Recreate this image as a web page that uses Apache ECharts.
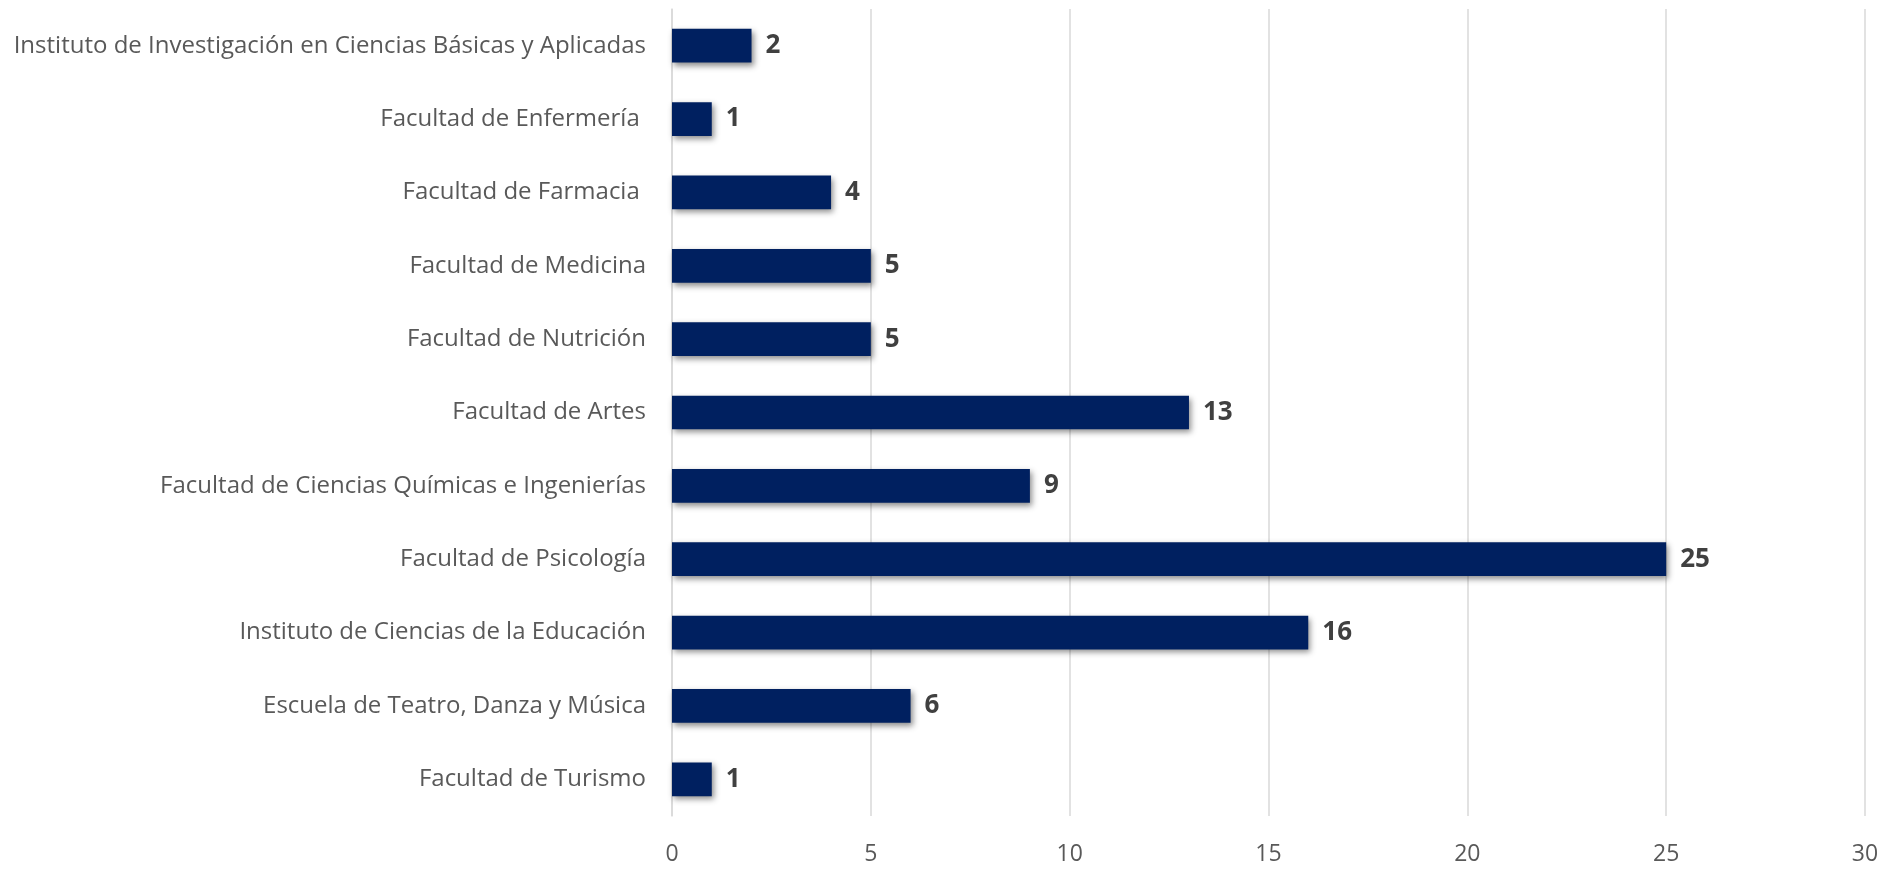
<!DOCTYPE html>
<html>
<head>
<meta charset="utf-8">
<style>html,body{margin:0;padding:0;background:#fff}#c{width:1894px;height:869px}</style>
<script src="https://cdn.jsdelivr.net/npm/echarts@6/dist/echarts.min.js"></script>
</head>
<body>
<div id="c"></div>
<script>
const categories = [
  "Instituto de Investigación en Ciencias Básicas y Aplicadas",
  "Facultad de Enfermería ",
  "Facultad de Farmacia ",
  "Facultad de Medicina",
  "Facultad de Nutrición",
  "Facultad de Artes",
  "Facultad de Ciencias Químicas e Ingenierías",
  "Facultad de Psicología",
  "Instituto de Ciencias de la Educación",
  "Escuela de Teatro, Danza y Música",
  "Facultad de Turismo"
];
const values = [2, 1, 4, 5, 5, 13, 9, 25, 16, 6, 1];
const xTicks = [0, 5, 10, 15, 20, 25, 30];

const chart = echarts.init(document.getElementById('c'));
chart.setOption({
  animation: false,
  grid: {left: 672, right: 29, top: 9, bottom: 53, containLabel: false},
  xAxis: {
    type: 'value', min: xTicks[0], max: xTicks[xTicks.length-1], interval: 5,
    axisLine: {show: false}, axisTick: {show: false},
    splitLine: {lineStyle: {color: '#d9d9d9', width: 1.5}},
    axisLabel: {color: '#595959', fontFamily: 'Open Sans', fontSize: 23, margin: 27}
  },
  yAxis: {
    type: 'category', data: categories, inverse: true,
    axisLine: {show: true, lineStyle: {color: '#d9d9d9', width: 1.5}},
    axisTick: {show: false},
    axisLabel: {color: '#595959', fontFamily: 'Open Sans', fontSize: 24, margin: 26}
  },
  series: [{
    type: 'bar', data: values, barWidth: '46%',
    itemStyle: {color: '#002060', shadowColor: 'rgba(0,0,0,0.45)', shadowBlur: 6, shadowOffsetX: 2, shadowOffsetY: 3},
    label: {show: true, position: 'right', distance: 14, color: '#404040', fontFamily: 'Open Sans', fontWeight: 'bold', fontSize: 26}
  }]
});
</script>
</body>
</html>
